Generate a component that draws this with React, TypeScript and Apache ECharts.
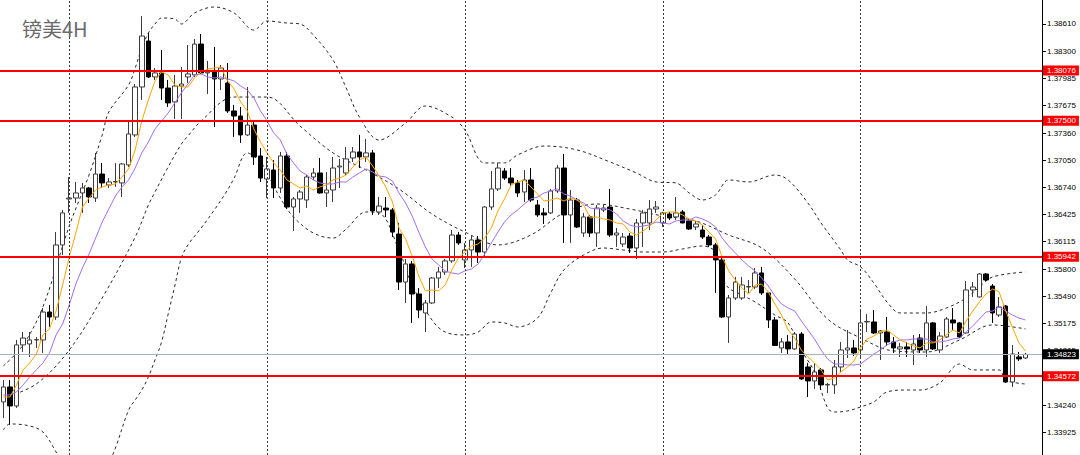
import { useEffect, useRef } from 'react';
import * as echarts from 'echarts';

const chartTitle = '镑美4H';

// [open, close, low, high] per 4H bar
const candles: number[][] = [
  [1.34277, 1.34449, 1.34093, 1.34529], [1.34449, 1.34231, 1.34014, 1.34529], [1.34231, 1.34931, 1.34208, 1.34988],
  [1.34931, 1.35010, 1.34850, 1.35079], [1.34942, 1.34988, 1.34793, 1.35079], [1.34988, 1.34992, 1.34896, 1.35022],
  [1.34988, 1.35308, 1.34839, 1.35354], [1.35308, 1.35251, 1.35137, 1.35389], [1.35251, 1.36077, 1.35217, 1.36225],
  [1.36077, 1.36444, 1.35962, 1.36478], [1.36604, 1.36615, 1.36444, 1.36856], [1.36615, 1.36673, 1.36558, 1.36799],
  [1.36673, 1.36730, 1.36444, 1.36788], [1.36730, 1.36627, 1.36558, 1.36742], [1.36615, 1.36890, 1.36569, 1.37132],
  [1.36890, 1.36788, 1.36730, 1.37017], [1.36765, 1.36799, 1.36730, 1.36844], [1.36799, 1.36805, 1.36742, 1.37017],
  [1.36788, 1.37005, 1.36627, 1.37017], [1.36994, 1.37349, 1.36971, 1.37498], [1.37338, 1.37888, 1.37315, 1.37922],
  [1.37888, 1.38472, 1.37739, 1.38701], [1.38415, 1.38003, 1.37991, 1.38507], [1.38003, 1.38049, 1.37968, 1.38105],
  [1.38049, 1.37876, 1.37739, 1.38312], [1.37876, 1.37705, 1.37659, 1.37968], [1.37716, 1.37899, 1.37521, 1.38026],
  [1.37899, 1.37922, 1.37521, 1.38117], [1.38003, 1.38037, 1.37934, 1.38369], [1.38026, 1.38380, 1.38003, 1.38438],
  [1.38380, 1.38049, 1.38037, 1.38495], [1.38049, 1.38060, 1.37807, 1.38186], [1.38060, 1.37980, 1.37429, 1.38346],
  [1.37980, 1.38105, 1.37853, 1.38140], [1.37934, 1.37613, 1.37590, 1.38163], [1.37613, 1.37555, 1.37315, 1.37682],
  [1.37555, 1.37338, 1.37246, 1.37659], [1.37338, 1.37452, 1.37326, 1.37888], [1.37452, 1.37086, 1.36994, 1.37509],
  [1.37097, 1.36844, 1.36799, 1.37188], [1.36833, 1.36948, 1.36615, 1.37086], [1.36936, 1.36730, 1.36615, 1.37051],
  [1.36730, 1.37097, 1.36673, 1.37143], [1.37097, 1.36512, 1.36489, 1.37143], [1.36512, 1.36604, 1.36237, 1.36627],
  [1.36604, 1.36684, 1.36444, 1.36707], [1.36592, 1.36856, 1.36500, 1.36879], [1.36856, 1.36902, 1.36822, 1.36959],
  [1.36902, 1.36673, 1.36665, 1.37074], [1.36673, 1.36707, 1.36512, 1.36913], [1.36707, 1.36959, 1.36569, 1.37086],
  [1.36971, 1.36982, 1.36730, 1.37063], [1.36902, 1.37063, 1.36879, 1.37200], [1.37074, 1.37143, 1.37028, 1.37200],
  [1.37143, 1.37086, 1.36959, 1.37338], [1.37086, 1.37132, 1.37028, 1.37292], [1.37132, 1.36467, 1.36421, 1.37166],
  [1.36455, 1.36523, 1.36421, 1.36627], [1.36500, 1.36478, 1.36398, 1.36627], [1.36478, 1.36225, 1.36168, 1.36500],
  [1.36202, 1.35652, 1.35561, 1.36329], [1.35652, 1.35859, 1.35412, 1.35916], [1.35859, 1.35515, 1.35183, 1.35894],
  [1.35515, 1.35331, 1.35239, 1.35583], [1.35297, 1.35412, 1.35079, 1.35446], [1.35412, 1.35698, 1.35400, 1.35710],
  [1.35698, 1.35767, 1.35583, 1.35825], [1.35767, 1.35894, 1.35733, 1.35916], [1.35894, 1.36191, 1.35871, 1.36248],
  [1.36191, 1.36100, 1.36077, 1.36225], [1.35905, 1.36019, 1.35813, 1.36100], [1.36019, 1.36134, 1.35825, 1.36179],
  [1.36134, 1.35996, 1.35871, 1.36179], [1.35996, 1.36512, 1.35939, 1.36523], [1.36512, 1.36719, 1.36478, 1.36925],
  [1.36719, 1.36959, 1.36696, 1.37017], [1.36925, 1.36844, 1.36822, 1.36959], [1.36844, 1.36788, 1.36753, 1.36959],
  [1.36788, 1.36673, 1.36627, 1.36822], [1.36684, 1.36822, 1.36569, 1.36936], [1.36822, 1.36592, 1.36569, 1.36959],
  [1.36535, 1.36421, 1.36398, 1.36592], [1.36444, 1.36421, 1.36317, 1.36500], [1.36444, 1.36696, 1.36432, 1.36719],
  [1.36696, 1.36959, 1.36673, 1.36994], [1.36959, 1.36421, 1.36100, 1.37120], [1.36421, 1.36592, 1.36100, 1.36707],
  [1.36592, 1.36283, 1.36271, 1.36615], [1.36214, 1.36398, 1.36168, 1.36444], [1.36398, 1.36214, 1.36168, 1.36421],
  [1.36214, 1.36500, 1.36054, 1.36535], [1.36478, 1.36500, 1.36455, 1.36535], [1.36512, 1.36191, 1.36168, 1.36719],
  [1.36191, 1.36214, 1.36054, 1.36271], [1.36088, 1.36168, 1.36054, 1.36214], [1.36179, 1.36042, 1.35985, 1.36214],
  [1.36042, 1.36329, 1.35916, 1.36375], [1.36329, 1.36444, 1.36054, 1.36478], [1.36329, 1.36489, 1.36248, 1.36592],
  [1.36489, 1.36512, 1.36444, 1.36581], [1.36329, 1.36444, 1.36283, 1.36455], [1.36432, 1.36386, 1.36363, 1.36455],
  [1.36398, 1.36444, 1.36363, 1.36627], [1.36455, 1.36329, 1.36325, 1.36478], [1.36352, 1.36260, 1.36248, 1.36386],
  [1.36283, 1.36317, 1.36248, 1.36352], [1.36248, 1.36168, 1.36145, 1.36306], [1.36168, 1.36077, 1.36054, 1.36191],
  [1.36077, 1.35905, 1.35527, 1.36100], [1.35905, 1.35251, 1.35239, 1.35950], [1.35251, 1.35469, 1.34954, 1.35504],
  [1.35469, 1.35652, 1.35446, 1.35710], [1.35469, 1.35618, 1.35446, 1.35710], [1.35595, 1.35600, 1.35527, 1.35675],
  [1.35595, 1.35756, 1.35572, 1.35813], [1.35756, 1.35527, 1.35504, 1.35825], [1.35527, 1.35217, 1.35125, 1.35538],
  [1.35217, 1.34925, 1.34919, 1.35251], [1.34896, 1.34965, 1.34839, 1.35010], [1.34965, 1.34885, 1.34816, 1.35045],
  [1.34885, 1.35056, 1.34873, 1.35079], [1.35056, 1.34541, 1.34529, 1.35079], [1.34678, 1.34518, 1.34334, 1.34724],
  [1.34518, 1.34621, 1.34426, 1.34724], [1.34644, 1.34472, 1.34414, 1.34666], [1.34472, 1.34478, 1.34380, 1.34495],
  [1.34472, 1.34678, 1.34368, 1.34758], [1.34678, 1.34873, 1.34621, 1.34965], [1.34873, 1.34896, 1.34781, 1.35102],
  [1.34896, 1.34839, 1.34804, 1.34988], [1.34873, 1.35183, 1.34781, 1.35331], [1.35194, 1.35200, 1.35079, 1.35285],
  [1.35194, 1.35068, 1.35056, 1.35331], [1.35068, 1.35091, 1.34758, 1.35102], [1.35079, 1.34965, 1.34919, 1.35251],
  [1.34965, 1.34896, 1.34839, 1.35022], [1.34885, 1.34908, 1.34793, 1.34954], [1.34908, 1.34885, 1.34793, 1.34965],
  [1.34873, 1.34942, 1.34701, 1.35045], [1.35010, 1.34873, 1.34839, 1.35056], [1.34873, 1.35183, 1.34793, 1.35377],
  [1.35183, 1.34885, 1.34873, 1.35194], [1.34873, 1.35033, 1.34839, 1.35079], [1.35022, 1.35228, 1.35010, 1.35251],
  [1.35217, 1.35183, 1.35102, 1.35354], [1.35183, 1.35022, 1.35010, 1.35194], [1.35068, 1.35561, 1.35060, 1.35664],
  [1.35561, 1.35595, 1.35481, 1.35652], [1.35481, 1.35744, 1.35475, 1.35756], [1.35744, 1.35675, 1.35664, 1.35756],
  [1.35606, 1.35297, 1.35183, 1.35629], [1.35274, 1.35366, 1.35251, 1.35481], [1.35377, 1.34506, 1.34495, 1.35389],
  [1.34506, 1.34827, 1.34449, 1.34931], [1.34793, 1.34770, 1.34747, 1.34850], [1.34781, 1.34823, 1.34770, 1.34839],
];

// orange moving average, one value per bar
const maFast: number[] = [
  1.34334, 1.34334, 1.34472, 1.34644, 1.34724, 1.34827, 1.35045, 1.35114, 1.35320, 1.35618,
  1.35939, 1.36214, 1.36512, 1.36615, 1.36707, 1.36742, 1.36765, 1.36776, 1.36856, 1.36948,
  1.37166, 1.37498, 1.37739, 1.37957, 1.38060, 1.38026, 1.37911, 1.37888, 1.37888, 1.37991,
  1.38060, 1.38094, 1.38105, 1.38117, 1.37957, 1.37865, 1.37716, 1.37613, 1.37406, 1.37257,
  1.37132, 1.37017, 1.36936, 1.36822, 1.36776, 1.36730, 1.36753, 1.36707, 1.36742, 1.36765,
  1.36822, 1.36844, 1.36879, 1.36971, 1.37051, 1.37086, 1.36982, 1.36867, 1.36742, 1.36569,
  1.36271, 1.36145, 1.35950, 1.35721, 1.35550, 1.35561, 1.35550, 1.35618, 1.35790, 1.35927,
  1.35996, 1.36065, 1.36088, 1.36156, 1.36271, 1.36467, 1.36604, 1.36765, 1.36799, 1.36822,
  1.36742, 1.36661, 1.36581, 1.36592, 1.36615, 1.36581, 1.36615, 1.36592, 1.36535, 1.36386,
  1.36398, 1.36375, 1.36363, 1.36329, 1.36317, 1.36225, 1.36191, 1.36237, 1.36294, 1.36363,
  1.36444, 1.36455, 1.36455, 1.36421, 1.36375, 1.36352, 1.36306, 1.36225, 1.36145, 1.35939,
  1.35779, 1.35675, 1.35583, 1.35515, 1.35618, 1.35629, 1.35538, 1.35400, 1.35274, 1.35102,
  1.35010, 1.34873, 1.34793, 1.34724, 1.34644, 1.34529, 1.34552, 1.34621, 1.34678, 1.34747,
  1.34896, 1.34999, 1.35033, 1.35079, 1.35102, 1.35045, 1.34988, 1.34954, 1.34919, 1.34896,
  1.34954, 1.34954, 1.34988, 1.35045, 1.35102, 1.35068, 1.35206, 1.35320, 1.35423, 1.35515,
  1.35572, 1.35538, 1.35320, 1.35137, 1.34954, 1.34862,
];

// purple moving average, one value per bar
const maSlow: number[] = [
  1.34357, 1.34357, 1.34392, 1.34472, 1.34564, 1.34644, 1.34724, 1.34839, 1.35045, 1.35171,
  1.35389, 1.35629, 1.35813, 1.35973, 1.36156, 1.36340, 1.36489, 1.36638, 1.36742, 1.36822,
  1.36959, 1.37132, 1.37257, 1.37406, 1.37498, 1.37590, 1.37705, 1.37819, 1.37922, 1.38026,
  1.38037, 1.38003, 1.37991, 1.38003, 1.37980, 1.37957, 1.37899, 1.37853, 1.37762, 1.37613,
  1.37498, 1.37361, 1.37280, 1.37120, 1.37017, 1.36925, 1.36879, 1.36822, 1.36788, 1.36776,
  1.36776, 1.36799, 1.36799, 1.36856, 1.36902, 1.36948, 1.36913, 1.36867, 1.36856, 1.36811,
  1.36673, 1.36558, 1.36409, 1.36225, 1.36054, 1.35916, 1.35848, 1.35779, 1.35756, 1.35744,
  1.35779, 1.35802, 1.35859, 1.35973, 1.36100, 1.36225, 1.36340, 1.36421, 1.36478, 1.36546,
  1.36604, 1.36627, 1.36673, 1.36696, 1.36719, 1.36661, 1.36638, 1.36592, 1.36558, 1.36500,
  1.36489, 1.36500, 1.36478, 1.36432, 1.36352, 1.36306, 1.36283, 1.36294, 1.36306, 1.36340,
  1.36329, 1.36317, 1.36352, 1.36363, 1.36363, 1.36398, 1.36375, 1.36340, 1.36283, 1.36156,
  1.36065, 1.35985, 1.35905, 1.35836, 1.35779, 1.35698, 1.35606, 1.35492, 1.35400, 1.35354,
  1.35320, 1.35206, 1.35102, 1.34999, 1.34873, 1.34770, 1.34712, 1.34712, 1.34701, 1.34701,
  1.34712, 1.34770, 1.34827, 1.34873, 1.34931, 1.34965, 1.34988, 1.34988, 1.34999, 1.34999,
  1.34999, 1.34965, 1.34965, 1.34977, 1.34999, 1.35010, 1.35079, 1.35148, 1.35228, 1.35308,
  1.35320, 1.35366, 1.35320, 1.35274, 1.35239, 1.35217,
];

// Bollinger band lines read at sample bars: [bar index, price]
const bandUpper: number[][] = [
  [0, 1.34689], [3, 1.34931], [6, 1.35366], [10, 1.36294], [13, 1.36879], [15, 1.37338], [16, 1.37601],
  [19, 1.37911], [20, 1.38105], [21, 1.38334], [22, 1.38507], [23, 1.38610], [24, 1.38679], [26, 1.38667],
  [27, 1.38610], [29, 1.38736], [32, 1.38805], [35, 1.38736], [38, 1.38541], [40, 1.38644], [43, 1.38621],
  [45, 1.38610], [47, 1.38484], [50, 1.38197], [52, 1.37876], [54, 1.37544], [57, 1.37280], [61, 1.37475],
  [64, 1.37670], [68, 1.37544], [70, 1.37395], [73, 1.37017], [76, 1.37017], [78, 1.37109], [82, 1.37211],
  [87, 1.37166], [92, 1.37028], [96, 1.36902], [99, 1.36799], [102, 1.36788], [104, 1.36673], [106, 1.36592],
  [108, 1.36650], [110, 1.36822], [113, 1.36799], [117, 1.36879], [119, 1.36822], [122, 1.36558], [124, 1.36329],
  [127, 1.36019], [128, 1.35905], [130, 1.35825], [132, 1.35641], [134, 1.35423], [136, 1.35297], [140, 1.35297],
  [143, 1.35354], [146, 1.35469], [148, 1.35595], [150, 1.35710], [155, 1.35767],
];
const bandMiddle: number[][] = [
  [0, 1.34322], [5, 1.34483], [10, 1.34873], [15, 1.35469], [20, 1.36168], [22, 1.36535], [23, 1.36684],
  [25, 1.36971], [27, 1.37234], [28, 1.37326], [30, 1.37498], [35, 1.37773], [40, 1.37773], [45, 1.37440],
  [50, 1.37132], [55, 1.36936], [60, 1.36719], [65, 1.36432], [70, 1.36225], [75, 1.36077], [80, 1.36191],
  [85, 1.36444], [90, 1.36546], [95, 1.36489], [100, 1.36409], [105, 1.36352], [110, 1.36191], [115, 1.36042],
  [120, 1.35687], [125, 1.35228], [130, 1.35010], [135, 1.34862], [140, 1.34850], [145, 1.34988], [150, 1.35160],
  [155, 1.35114],
];
const bandLower: number[][] = [
  [0, 1.33956], [1, 1.34025], [4, 1.34002], [6, 1.33933], [8, 1.33704], [10, 1.33441], [12, 1.33383],
  [14, 1.33429], [16, 1.33589], [17, 1.33749], [19, 1.34185], [20, 1.34300], [21, 1.34414], [22, 1.34564],
  [23, 1.34758], [24, 1.34965], [25, 1.35285], [26, 1.35606], [27, 1.35927], [28, 1.36077], [30, 1.36271],
  [32, 1.36478], [34, 1.36707], [35, 1.36844], [37, 1.37132], [39, 1.37028], [40, 1.36902], [42, 1.36615],
  [44, 1.36398], [47, 1.36214], [50, 1.36156], [52, 1.36260], [55, 1.36455], [57, 1.36444], [60, 1.36019],
  [62, 1.35618], [65, 1.35217], [67, 1.35079], [70, 1.35045], [72, 1.35079], [74, 1.35194], [76, 1.35183],
  [78, 1.35137], [81, 1.35239], [83, 1.35527], [85, 1.35790], [88, 1.35962], [91, 1.36042], [94, 1.36019],
  [97, 1.35996], [100, 1.35996], [103, 1.36031], [106, 1.36065], [108, 1.35996], [109, 1.35710], [110, 1.35583],
  [112, 1.35504], [114, 1.35423], [117, 1.35274], [119, 1.35183], [121, 1.34873], [123, 1.34621], [125, 1.34208],
  [126, 1.34162], [128, 1.34174], [130, 1.34220], [132, 1.34277], [134, 1.34392], [137, 1.34414], [139, 1.34414],
  [142, 1.34495], [145, 1.34712], [147, 1.34644], [151, 1.34644], [152, 1.34529], [155, 1.34483],
];

const priceTicks = [
  1.33925, 1.3424, 1.3455, 1.34865, 1.35175, 1.3549, 1.358, 1.36115,
  1.36425, 1.3674, 1.3705, 1.3736, 1.37675, 1.37985, 1.383, 1.3861,
];
const levelLines = [1.38076, 1.375, 1.35942, 1.34572];
const lastPrice = 1.34823;
const weekStartBars = [10, 40, 70, 100, 130];
const priceMin = 1.33669;
const priceMax = 1.38885;
const emptyBarsRight = 2;

export default function App() {
  const ref = useRef<HTMLDivElement>(null);

  useEffect(() => {
    document.body.style.margin = '0';
    const chart = echarts.init(ref.current as HTMLDivElement, null, { renderer: 'svg' });
    const categories = Array.from({ length: candles.length + emptyBarsRight }, (_, i) => String(i));
    const font = '"Liberation Sans", Arial, sans-serif';
    const tag = (bg: string) => ({
      show: true,
      position: 'end',
      distance: 1,
      formatter: (p: any) => Number(p.value).toFixed(5),
      color: '#ffffff',
      backgroundColor: bg,
      fontSize: 8,
      fontFamily: font,
      lineHeight: 9,
      padding: [1, 3, 0, 4],
    });
    const bandSeries = (data: number[][]) => ({
      type: 'line',
      data,
      z: 2,
      smooth: 0.35,
      connectNulls: true,
      showSymbol: false,
      symbol: 'none',
      silent: true,
      lineStyle: { color: '#2a2a2a', width: 1, type: [3, 3] },
    });

    chart.setOption({
      animation: false,
      backgroundColor: '#ffffff',
      title: {
        text: chartTitle,
        left: 17,
        top: 13,
        textStyle: { fontSize: 20, fontWeight: 'normal', color: '#6a6a6a', fontFamily: '"Noto Sans CJK SC", sans-serif' },
      },
      grid: { left: 0, right: 38, top: 0, bottom: 0, containLabel: false },
      xAxis: {
        type: 'category',
        data: categories,
        boundaryGap: true,
        axisLine: { show: false },
        axisTick: { show: false },
        axisLabel: { show: false },
        splitLine: { show: false },
      },
      yAxis: {
        type: 'value',
        position: 'right',
        min: priceMin,
        max: priceMax,
        scale: true,
        axisLine: { show: true, lineStyle: { color: '#000000', width: 1 } },
        axisTick: { show: true, customValues: priceTicks, length: 4, lineStyle: { color: '#000000' } },
        axisLabel: {
          show: true,
          customValues: priceTicks,
          margin: 5,
          formatter: (v: number) => v.toFixed(5),
          color: '#000000',
          fontSize: 8,
          fontFamily: font,
        },
        splitLine: { show: false },
      },
      series: [
        {
          type: 'line',
          data: [],
          z: 1,
          silent: true,
          markLine: {
            silent: true,
            symbol: ['none', 'none'],
            label: { show: false },
            lineStyle: { color: '#3a3a3a', width: 1, type: [2, 2] },
            data: weekStartBars.map((b) => ({ xAxis: b })),
          },
        },
        bandSeries(bandUpper),
        bandSeries(bandMiddle),
        bandSeries(bandLower),
        {
          type: 'candlestick',
          data: candles,
          z: 3,
          barWidth: 5,
          silent: true,
          itemStyle: {
            color: '#ffffff',
            color0: '#000000',
            borderColor: '#3c3c3c',
            borderColor0: '#000000',
            borderWidth: 1,
          },
        },
        {
          type: 'line',
          data: maSlow,
          z: 4,
          symbol: 'none',
          silent: true,
          lineStyle: { color: '#a070f0', width: 1 },
        },
        {
          type: 'line',
          data: maFast,
          z: 4,
          symbol: 'none',
          silent: true,
          lineStyle: { color: '#ffa500', width: 1 },
        },
        {
          type: 'line',
          data: [],
          z: 10,
          silent: true,
          markLine: {
            silent: true,
            precision: 5,
            symbol: ['none', 'none'],
            data: [
              { yAxis: lastPrice, lineStyle: { color: '#a9b3be', width: 1, type: 'solid' }, label: tag('#000000') },
              ...levelLines.map((v) => ({
                yAxis: v,
                lineStyle: { color: '#ff0000', width: 2, type: 'solid' },
                label: tag('#ff0000'),
              })),
            ],
          },
        },
      ],
    });

    return () => chart.dispose();
  }, []);

  return <div ref={ref} style={{ width: 1080, height: 455 }} />;
}
